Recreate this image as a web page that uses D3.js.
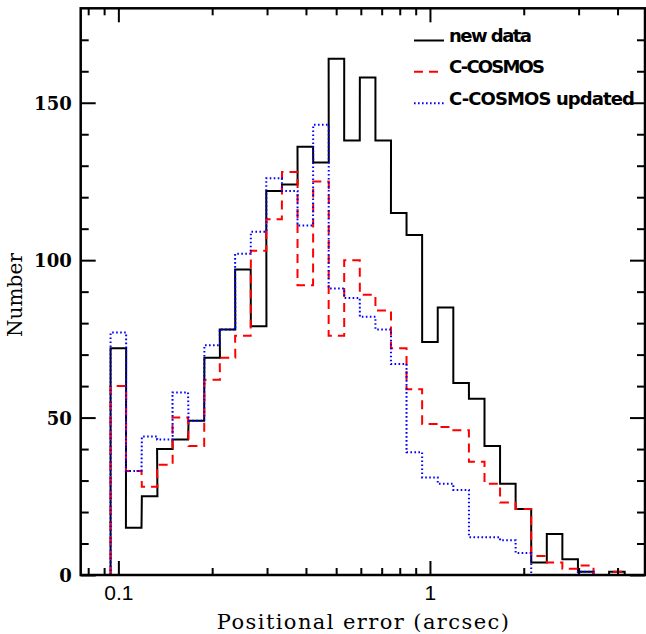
<!DOCTYPE html>
<html>
<head>
<meta charset="utf-8">
<script src="https://cdn.jsdelivr.net/npm/d3@7"></script>
<style>
  html, body { margin: 0; padding: 0; background: #fff; }
  svg { display: block; }
</style>
</head>
<body>
<svg id="chart" width="646" height="634"></svg>
<script>
// ---- data ----
// bin centres (arcsec), logarithmic bins of 0.05 dex
const binCenters = [0.100, 0.112, 0.126, 0.141, 0.158, 0.178, 0.200, 0.224, 0.251, 0.282,
                    0.316, 0.355, 0.398, 0.447, 0.501, 0.562, 0.631, 0.708, 0.794, 0.891,
                    1.000, 1.122, 1.259, 1.413, 1.585, 1.778, 1.995, 2.239, 2.512, 2.818,
                    3.162, 3.548, 3.981];
const binHalfWidthDex = 0.025;
const newData =    [72, 15, 25, 40, 43, 49, 69, 78, 97, 79, 122, 124, 136, 131, 164, 138, 158, 138, 115, 108, 74, 85, 61, 56, 41, 29, 21, 4, 13, 5, 1, 0, 1];
const cCosmos =    [60, 33, 28, 35, 50, 41, 62, 69, 76, 103, 113, 128, 92, 125, 76, 100, 89, 84, 72, 59, 48, 47, 46, 36, 29, 23, 21, 6, 4, 2, 3, 0, 1];
const cCosmosUpd = [77, 33, 44, 43, 58, 49, 73, 78, 102, 109, 126, 122, 111, 143, 91, 88, 82, 78, 67, 39, 31, 29, 27, 12, 12, 11, 7, 0, 0, 0, 1, 0, 0];
const seriesNames = ["new data", "C-COSMOS", "C-COSMOS updated"];

const xMajorTicks = [0.1, 1];
const xMinorTicks = [0.08, 0.09, 0.2, 0.3, 0.4, 0.5, 0.6, 0.7, 0.8, 0.9, 2, 3, 4];
const xTickLabels = ["0.1", "1"];
const yMajorTicks = [0, 50, 100, 150];
const yMinorTicks = [10, 20, 30, 40, 60, 70, 80, 90, 110, 120, 130, 140, 160, 170];
const xTitle = "Positional error (arcsec)";
const yTitle = "Number";

// ---- layout ----
const L = 80.7, R = 645, T = 8.3, B = 575;
const svg = d3.select("#chart");
const x = d3.scaleLog().domain([0.0757, 4.9]).range([L, R]);
const y = d3.scaleLinear().domain([0, 180]).range([B, T]);

// ---- histograms ----
const styles = [
  { data: newData, color: "#000000", dash: null, width: 2 },
  { data: cCosmos, color: "#ff0000", dash: "9,6", width: 2 },
  { data: cCosmosUpd, color: "#0000ff", dash: "1.6,2.4", width: 2 }
];
const hw = Math.pow(10, binHalfWidthDex);
const line = d3.line().x(d => d[0]).y(d => d[1]);
function stepPoints(vals) {
  const pts = [];
  pts.push([x(binCenters[0] / hw), y(0)]);
  vals.forEach((v, i) => {
    pts.push([x(binCenters[i] / hw), y(v)]);
    pts.push([x(binCenters[i] * hw), y(v)]);
  });
  pts.push([x(binCenters[vals.length - 1] * hw), y(0)]);
  return pts;
}
styles.forEach(s => {
  svg.append("path")
    .attr("d", line(stepPoints(s.data)))
    .attr("fill", "none")
    .attr("stroke", s.color)
    .attr("stroke-width", s.width)
    .attr("stroke-dasharray", s.dash)
    .attr("stroke-linejoin", "miter");
});

// ---- axes / frame ----
const axisG = svg.append("g");
function addAxis(axis, transform, size, values, labels) {
  const g = axisG.append("g").attr("transform", transform)
    .call(axis.tickValues(values).tickSizeInner(-size).tickSizeOuter(0)
      .tickFormat(labels ? (d, i) => labels[i] : () => ""));
  g.select(".domain").remove();
  g.selectAll(".tick line").attr("stroke", "#000").attr("stroke-width", 2);
  return g;
}
// bottom
const gb = addAxis(d3.axisBottom(x), `translate(0,${B})`, 14, xMajorTicks, xTickLabels);
gb.selectAll(".tick text")
  .attr("y", 25).attr("dy", 0)
  .attr("font-family", "Liberation Sans, Arial, sans-serif")
  .attr("font-size", 21).attr("fill", "#000");
addAxis(d3.axisBottom(x), `translate(0,${B})`, 7, xMinorTicks, null);
// top
addAxis(d3.axisTop(x), `translate(0,${T})`, 14, xMajorTicks, null);
addAxis(d3.axisTop(x), `translate(0,${T})`, 7, xMinorTicks, null);
// left
const gl = addAxis(d3.axisLeft(y), `translate(${L},0)`, 15, yMajorTicks, yMajorTicks.map(String));
gl.selectAll(".tick text")
  .attr("x", -9).attr("dy", "0.36em")
  .attr("font-family", "DejaVu Serif, serif")
  .attr("font-weight", "bold")
  .attr("font-size", 18).attr("fill", "#000");
addAxis(d3.axisLeft(y), `translate(${L},0)`, 8, yMinorTicks, null);
// right
addAxis(d3.axisRight(y), `translate(${R},0)`, 15, yMajorTicks, null);
addAxis(d3.axisRight(y), `translate(${R},0)`, 8, yMinorTicks, null);

svg.append("rect")
  .attr("x", L).attr("y", T).attr("width", R - L).attr("height", B - T)
  .attr("fill", "none").attr("stroke", "#000").attr("stroke-width", 2.5);

// ---- titles ----
svg.append("text")
  .attr("x", (L + R) / 2).attr("y", 629)
  .attr("text-anchor", "middle")
  .attr("font-family", "DejaVu Serif, serif")
  .attr("font-size", 21)
  .attr("textLength", 292).attr("lengthAdjust", "spacing")
  .text(xTitle);
svg.append("text")
  .attr("transform", `translate(21.5,${(253 + 337) / 2}) rotate(-90)`)
  .attr("text-anchor", "middle")
  .attr("font-family", "DejaVu Serif, serif")
  .attr("font-size", 20)
  .attr("textLength", 84).attr("lengthAdjust", "spacing")
  .text(yTitle);

// ---- legend ----
const legendRows = [40.5, 71.8, 103.2];
const legendWidths = [83, 96, 186];
styles.forEach((s, i) => {
  svg.append("line")
    .attr("x1", 414).attr("x2", 444)
    .attr("y1", legendRows[i]).attr("y2", legendRows[i])
    .attr("stroke", s.color).attr("stroke-width", 2)
    .attr("stroke-dasharray", s.dash);
  svg.append("text")
    .attr("x", 449).attr("y", legendRows[i] + 1.5)
    .attr("font-family", "DejaVu Sans, sans-serif")
    .attr("font-weight", "bold")
    .attr("font-size", 18)
    .attr("textLength", legendWidths[i]).attr("lengthAdjust", "spacing")
    .text(seriesNames[i]);
});
</script>
</body>
</html>
